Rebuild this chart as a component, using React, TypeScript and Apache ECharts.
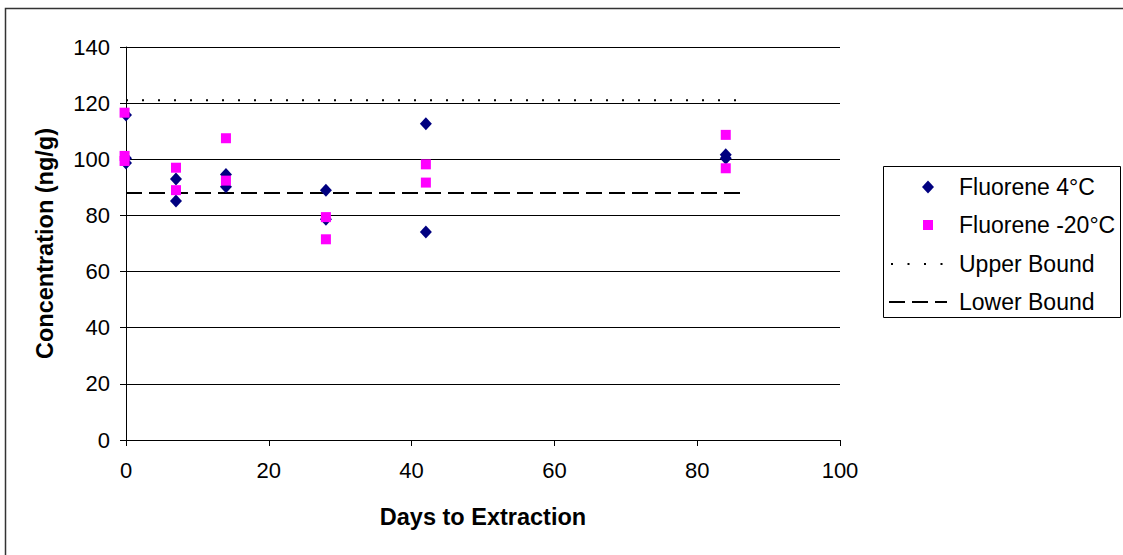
import React, { useEffect, useRef } from "react";
import * as echarts from "echarts";

const days4C = [0, 0, 0, 7, 7, 14, 14, 28, 28, 42, 42, 84, 84];
const conc4C = [115.8, 100.4, 98.7, 93.0, 85.1, 94.6, 90.2, 89.0, 78.6, 112.7, 74.1, 101.6, 100.4];
const days20C = [-0.2, -0.2, -0.2, 7, 7, 14, 14, 28, 28, 42, 42, 84, 84];
const conc20C = [116.6, 101.2, 99.4, 97.0, 89.0, 107.5, 92.4, 79.4, 71.5, 98.2, 91.7, 108.7, 96.8];
const boundDays = [0, 86];
const upperBound = [121, 121];
const lowerBound = [88, 88];
const seriesNames = ["Fluorene 4°C", "Fluorene -20°C", "Upper Bound", "Lower Bound"];

const FONT = "'Liberation Sans', Arial, sans-serif";
const NAVY = "#000080";
const MAGENTA = "#FF00FF";

export default function App() {
  const ref = useRef<HTMLDivElement>(null);
  useEffect(() => {
    const chart = echarts.init(ref.current!, undefined, { renderer: "svg" });
    const pair = (xs: number[], ys: number[]) => xs.map((x, i) => [x, ys[i]]);

    const legX = 883;
    const legY = 166;
    const rowY = [187, 225, 264, 302];
    const markX = 928;
    const textX = 959;
    const legendGraphics: any[] = [
      {
        type: "rect",
        shape: { x: legX + 0.5, y: legY + 0.5, width: 237, height: 151 },
        style: { fill: "#fff", stroke: "#000", lineWidth: 1 },
        silent: true,
        z: 10,
      },
      {
        type: "polygon",
        shape: {
          points: [
            [markX, rowY[0] - 6.5],
            [markX + 6, rowY[0]],
            [markX, rowY[0] + 6.5],
            [markX - 6, rowY[0]],
          ],
        },
        style: { fill: NAVY },
        z: 11,
      },
      {
        type: "rect",
        shape: { x: markX - 5, y: rowY[1] - 5, width: 10, height: 10 },
        style: { fill: MAGENTA },
        z: 11,
      },
      {
        type: "line",
        shape: { x1: 891, y1: rowY[2], x2: 945, y2: rowY[2] },
        style: { stroke: "#000", lineWidth: 2, lineDash: [2, 14.5] },
        z: 11,
      },
      {
        type: "line",
        shape: { x1: 889, y1: rowY[3], x2: 947, y2: rowY[3] },
        style: { stroke: "#000", lineWidth: 2, lineDash: [16, 7] },
        z: 11,
      },
    ];
    seriesNames.forEach((name, i) => {
      legendGraphics.push({
        type: "text",
        x: textX,
        y: rowY[i],
        style: {
          text: name,
          fontSize: 23,
          fontFamily: FONT,
          fill: "#000",
          verticalAlign: "middle",
          align: "left",
        },
        z: 11,
      });
    });

    chart.setOption({
      animation: false,
      backgroundColor: "#fff",
      textStyle: { fontFamily: FONT },
      graphic: [
        {
          type: "rect",
          shape: { x: 5.5, y: 8.5, width: 1300, height: 700 },
          style: { fill: "none", stroke: "#333", lineWidth: 1.5 },
          silent: true,
        },
        ...legendGraphics,
      ],
      grid: { left: 126, top: 47, width: 714, height: 393 },
      xAxis: {
        type: "value",
        min: 0,
        max: 100,
        interval: 20,
        name: "Days to Extraction",
        nameLocation: "middle",
        nameGap: 65,
        nameTextStyle: { fontSize: 23.5, fontWeight: "bold", color: "#000", fontFamily: FONT },
        axisLine: { onZero: false, lineStyle: { color: "#000", width: 1 } },
        axisTick: { show: true, inside: false, length: 6, lineStyle: { color: "#000" } },
        axisLabel: { margin: 19, fontSize: 22, color: "#000", fontFamily: FONT },
        splitLine: { show: false },
      },
      yAxis: {
        type: "value",
        min: 0,
        max: 140,
        interval: 20,
        name: "Concentration (ng/g)",
        nameLocation: "middle",
        nameGap: 69,
        nameTextStyle: { fontSize: 23.5, fontWeight: "bold", color: "#000", fontFamily: FONT },
        axisLine: { show: true, onZero: false, lineStyle: { color: "#000", width: 1 } },
        axisTick: { show: true, inside: false, length: 6, lineStyle: { color: "#000" } },
        axisLabel: { margin: 16, fontSize: 22, color: "#000", fontFamily: FONT },
        splitLine: { show: true, lineStyle: { color: "#000", width: 1 } },
      },
      series: [
        {
          name: seriesNames[0],
          type: "scatter",
          symbol: "diamond",
          symbolSize: [12, 13],
          clip: false,
          itemStyle: { color: NAVY, opacity: 1 },
          data: pair(days4C, conc4C),
          z: 3,
        },
        {
          name: seriesNames[1],
          type: "scatter",
          symbol: "rect",
          symbolSize: 10,
          clip: false,
          itemStyle: { color: MAGENTA, opacity: 1 },
          data: pair(days20C, conc20C),
          z: 4,
        },
        {
          name: seriesNames[2],
          type: "line",
          symbol: "none",
          lineStyle: { color: "#000", width: 2, type: [2, 14] },
          data: pair(boundDays, upperBound),
          z: 2,
        },
        {
          name: seriesNames[3],
          type: "line",
          symbol: "none",
          lineStyle: { color: "#000", width: 2, type: [16, 7] },
          data: pair(boundDays, lowerBound),
          z: 2,
        },
      ],
    });
    return () => chart.dispose();
  }, []);
  return (
    <div
      ref={ref}
      style={{ position: "fixed", left: 0, top: 0, width: 1123, height: 555, background: "#fff" }}
    />
  );
}
